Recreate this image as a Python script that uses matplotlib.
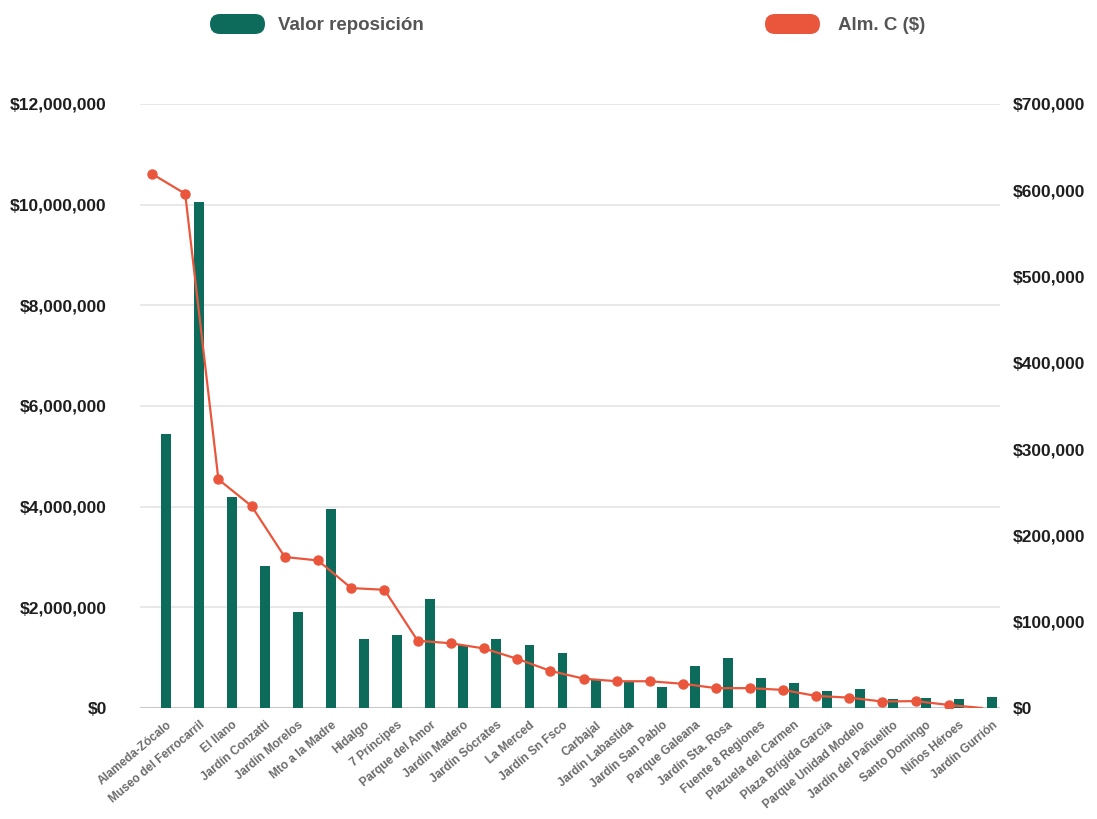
import matplotlib
matplotlib.use("Agg")
import matplotlib.pyplot as plt
import numpy as np
from matplotlib.patches import FancyBboxPatch
from matplotlib.ticker import FuncFormatter, MultipleLocator
from matplotlib.transforms import IdentityTransform

plt.rcParams['font.family'] = ['Liberation Sans', 'DejaVu Sans']

categories = [
    "Alameda-Zócalo", "Museo del Ferrocarril", "El llano", "Jardín Conzatti",
    "Jardín Morelos", "Mto a la Madre", "Hidalgo", "7 Príncipes",
    "Parque del Amor", "Jardín Madero", "Jardín Sócrates", "La Merced",
    "Jardín Sn Fsco", "Carbajal", "Jardín Labastida", "Jardín San Pablo",
    "Parque Galeana", "Jardín Sta. Rosa", "Fuente 8 Regiones",
    "Plazuela del Carmen", "Plaza Brígida García", "Parque Unidad Modelo",
    "Jardín del Pañuelito", "Santo Domingo", "Niños Héroes", "Jardín Gurrión",
]

valor_reposicion = [
    5450000, 10050000, 4200000, 2830000, 1900000, 3950000, 1380000, 1460000,
    2160000, 1260000, 1380000, 1250000, 1100000, 560000, 510000, 420000,
    830000, 990000, 600000, 490000, 340000, 380000, 180000, 200000,
    170000, 210000,
]

alm_c = [
    619000, 596000, 265000, 234000, 175000, 171000, 139000, 137000,
    78000, 75000, 69000, 57000, 43000, 34000, 31000, 31000,
    28000, 23000, 23000, 21000, 14000, 12000, 7500, 8000,
    3500, 0,
]

green = "#0c6b5b"
red = "#e9563c"

W, H = 1097, 819
fig = plt.figure(figsize=(W / 100, H / 100), dpi=100)
fig.patch.set_facecolor("white")

rect = [140 / W, 1 - 708 / H, 860 / W, 604 / H]
ax = fig.add_axes(rect)
x = np.arange(len(categories))

ax.bar(x, valor_reposicion, width=0.3, color=green, zorder=3)
ax.set_xlim(-0.787, len(categories) - 1 + 0.24)
ax.set_ylim(0, 12000000)
ax.yaxis.set_major_locator(MultipleLocator(2000000))
ax.yaxis.set_major_formatter(FuncFormatter(lambda v, p: f"${v:,.0f}"))
ax.grid(axis="y", color="#e4e4e4", linewidth=1.2, zorder=0)
ax.set_axisbelow(True)
for s in ax.spines.values():
    s.set_visible(False)
ax.axhline(0, color="#c8c8c8", linewidth=2.2, zorder=2)
ax.tick_params(axis="y", length=0, pad=24, labelsize=12.5, labelcolor="#1e1e1e")
for t in ax.get_yticklabels():
    t.set_fontweight("bold")
ax.set_xticks(x)
ax.set_xticklabels(categories, rotation=40, ha="right", va="top",
                   rotation_mode="anchor", fontsize=8.6, color="#6b6b6b",
                   fontweight="bold")
ax.tick_params(axis="x", length=0, pad=8)

# secondary series on its own category scale
ax2 = fig.add_axes(rect, facecolor="none")
n = len(categories)
ax2.plot(x, alm_c, color=red, linewidth=1.6, marker="o", markersize=6.5,
         markevery=list(range(n - 1)), zorder=5)
ax2.set_xlim(-0.361, n - 1 + 0.54)
ax2.set_ylim(0, 700000)
ax2.yaxis.tick_right()
ax2.yaxis.set_major_locator(MultipleLocator(100000))
ax2.yaxis.set_major_formatter(FuncFormatter(lambda v, p: f"${v:,.0f}"))
ax2.tick_params(axis="y", length=0, pad=9, labelsize=12.5, labelcolor="#1e1e1e")
for t in ax2.get_yticklabels():
    t.set_fontweight("bold")
ax2.set_xticks([])
for s in ax2.spines.values():
    s.set_visible(False)

# legend
def pill(x0, color, label, tx):
    y_top = 14
    h = 20
    w = 55
    p = FancyBboxPatch((x0 + h / 2, H - y_top - h + h / 2), w - h, 0,
                       boxstyle=f"round,pad={h / 2}", transform=IdentityTransform(),
                       facecolor=color, edgecolor="none")
    fig.patches.append(p)
    fig.text(tx / W, 1 - 25 / H, label, ha="left", va="center",
             fontsize=13.5, fontweight="bold", color="#555555")

pill(210, green, "Valor reposición", 278)
pill(765, red, "Alm. C ($)", 838)

fig.savefig("out.png", dpi=100, facecolor="white")
